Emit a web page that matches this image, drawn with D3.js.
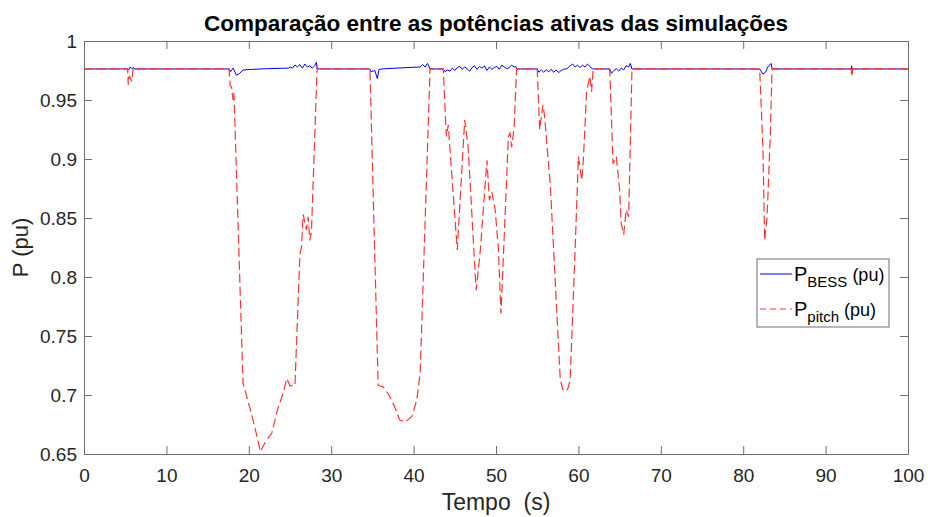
<!DOCTYPE html>
<html><head><meta charset="utf-8">
<script src="https://cdn.jsdelivr.net/npm/d3@7"></script>
<style>body{margin:0;background:#fff}svg{display:block}text{font-family:"Liberation Sans",Arial,Helvetica,sans-serif;white-space:pre}</style>
</head><body>
<script>
const title = "Comparação entre as potências ativas das simulações";
const xLabel = "Tempo  (s)";
const yLabel = "P (pu)";
const xTicks = [0,10,20,30,40,50,60,70,80,90,100];
const yTicks = [0.65,0.7,0.75,0.8,0.85,0.9,0.95,1];
const yTickLabels = ["0.65","0.7","0.75","0.8","0.85","0.9","0.95","1"];

const pitchT = [0,5.3,5.37,5.5,5.66,5.78,5.98,6.1,17.6,17.75,17.9,18.0,18.1,18.2,19.3,20.1,21.0,21.4,22.0,22.8,23.5,24.2,24.6,25.0,25.6,26.2,26.4,26.6,26.8,27.0,27.2,27.4,27.6,28.3,28.4,
  34.7,35.7,36.3,37.1,37.7,38.3,39.0,39.8,40.4,40.8,42.0,
  43.6,43.9,44.0,44.2,45.3,46.2,46.6,47.5,47.6,48.1,48.9,49.2,49.5,49.9,50.3,50.6,51.1,51.5,51.7,51.9,52.2,52.5,
  55.0,55.3,55.7,55.9,56.6,57.2,57.8,58.1,58.4,58.7,59.0,59.6,60.0,60.4,60.6,61.0,61.4,61.6,61.8,
  63.8,64.2,64.6,65.0,65.2,65.5,65.8,66.1,66.5,
  82.0,82.4,82.6,82.9,83.3,83.5,93.1,93.2,93.3,100];
const pitchP = [0.9763,0.9763,0.963,0.970,0.9686,0.9655,0.977,0.9763,0.9763,0.962,0.961,0.955,0.950,0.956,0.710,0.690,0.665,0.652,0.660,0.668,0.688,0.702,0.714,0.708,0.708,0.819,0.826,0.853,0.846,0.840,0.851,0.831,0.838,0.979,0.9763,
  0.9763,0.708,0.707,0.699,0.690,0.679,0.677,0.682,0.696,0.719,0.9763,
  0.9763,0.930,0.919,0.929,0.823,0.933,0.912,0.800,0.789,0.823,0.899,0.865,0.872,0.857,0.823,0.769,0.851,0.919,0.922,0.910,0.927,0.9763,
  0.9763,0.925,0.946,0.936,0.877,0.795,0.713,0.705,0.703,0.705,0.713,0.823,0.902,0.882,0.899,0.958,0.970,0.957,0.9763,
  0.9763,0.896,0.902,0.874,0.845,0.836,0.857,0.851,0.9763,
  0.9763,0.908,0.831,0.851,0.922,0.9763,0.9763,0.970,0.9763,0.9763];

const bessT = [0,5.3,5.4,5.6,5.8,6.0,6.1,17.6,17.8,18.1,18.5,18.9,19.3,20.0,22.0,24.6,24.8,25.0,25.3,25.6,25.9,26.2,26.5,26.8,27.1,27.4,27.7,28.0,28.2,28.3,
  34.7,34.8,35.3,35.6,35.8,36.5,40.8,41.1,41.4,41.7,42.0,
  43.6,43.8,44.1,44.4,44.7,45.0,45.3,45.6,45.9,46.2,46.5,46.8,47.1,47.4,47.7,48.0,48.3,48.6,48.9,49.2,49.5,49.8,50.1,50.4,50.7,51.0,51.3,51.6,51.9,52.2,52.4,52.5,
  55.0,55.2,55.5,55.8,56.1,56.4,56.7,57.0,57.3,57.6,57.9,58.2,58.6,59.0,59.3,59.6,59.9,60.2,60.5,60.8,61.1,61.4,61.7,
  63.8,64.0,64.3,64.6,64.9,65.2,65.5,65.8,66.1,66.3,66.5,
  82.0,82.4,82.7,83.0,83.4,83.5,93.1,93.15,93.25,93.3,100];
const bessP = [0.9763,0.9763,0.9755,0.978,0.9765,0.9775,0.9763,0.9763,0.974,0.977,0.971,0.9726,0.9754,0.9758,0.9765,0.977,0.9768,0.978,0.977,0.9797,0.978,0.980,0.977,0.9805,0.978,0.979,0.977,0.979,0.982,0.9763,
  0.9763,0.974,0.975,0.968,0.976,0.9765,0.978,0.980,0.978,0.981,0.9763,
  0.9763,0.974,0.9755,0.9745,0.977,0.975,0.9775,0.9785,0.976,0.978,0.9765,0.9745,0.9775,0.979,0.976,0.9785,0.977,0.979,0.975,0.978,0.976,0.9775,0.9785,0.976,0.9795,0.978,0.9765,0.9775,0.9795,0.978,0.9785,0.9763,
  0.9763,0.9735,0.9755,0.9735,0.9755,0.974,0.976,0.9735,0.9755,0.9732,0.975,0.976,0.9765,0.979,0.9805,0.978,0.9795,0.9775,0.9795,0.978,0.9805,0.9785,0.9763,
  0.9763,0.9726,0.975,0.9765,0.9745,0.977,0.9755,0.979,0.978,0.981,0.9763,
  0.9763,0.972,0.9735,0.978,0.981,0.9763,0.9763,0.979,0.9755,0.9763,0.9763];

const W = 928, H = 517;
const L = 84, R = 908, T = 41, B = 454;
const x = d3.scaleLinear().domain([0,100]).range([L,R]);
const y = d3.scaleLinear().domain([0.65,1]).range([B,T]);
const axisCol = "#6e6e6e", txtCol = "#262626";

const svg = d3.select("body").append("svg").attr("width",W).attr("height",H);
svg.append("defs").append("clipPath").attr("id","clip").append("rect")
  .attr("x",L).attr("y",T).attr("width",R-L).attr("height",B-T);

// lines
const line = d3.line().x(d=>x(d[0])).y(d=>y(d[1]));
const bess = bessT.map((t,i)=>[t,bessP[i]]);
const pitch = pitchT.map((t,i)=>[t,pitchP[i]]);
const g = svg.append("g").attr("clip-path","url(#clip)");
g.append("path").datum(bess).attr("d",line).attr("fill","none").attr("stroke","#0000ff").attr("stroke-width",1);
g.append("path").datum(pitch).attr("d",line).attr("fill","none").attr("stroke","#ff3333").attr("stroke-width",1.2).attr("stroke-dasharray","9,4");

// axes
function styleAxis(sel){
  sel.select(".domain").attr("stroke",axisCol);
  sel.selectAll(".tick line").attr("stroke",axisCol);
  sel.selectAll(".tick text").attr("fill",txtCol).style("font-size","19px");
}
const ax = svg.append("g").attr("transform",`translate(0,${B})`)
  .call(d3.axisBottom(x).tickValues(xTicks).tickSize(-8).tickPadding(15).tickFormat(d3.format("d")));
styleAxis(ax);
const axT = svg.append("g").attr("transform",`translate(0,${T})`)
  .call(d3.axisTop(x).tickValues(xTicks).tickSize(-8).tickFormat(""));
styleAxis(axT);
const ay = svg.append("g").attr("transform",`translate(${L},0)`)
  .call(d3.axisLeft(y).tickValues(yTicks).tickSize(-8).tickPadding(7).tickFormat((d,i)=>yTickLabels[i]));
styleAxis(ay);
ay.selectAll(".tick text").attr("dy","0.36em");
const ayR = svg.append("g").attr("transform",`translate(${R},0)`)
  .call(d3.axisRight(y).tickValues(yTicks).tickSize(-8).tickFormat(""));
styleAxis(ayR);

// title and labels
svg.append("text").attr("x",(L+R)/2).attr("y",31).attr("text-anchor","middle")
  .style("font-size","22.5px").style("font-weight","bold").attr("fill","#000").text(title);
svg.append("text").attr("x",(L+R)/2).attr("y",510).attr("text-anchor","middle")
  .style("font-size","23px").attr("fill",txtCol).text(xLabel);
svg.append("text").attr("transform",`translate(28,247.5) rotate(-90)`).attr("text-anchor","middle")
  .style("font-size","22px").attr("fill",txtCol).text(yLabel);

// legend
const lg = svg.append("g");
lg.append("rect").attr("x",757).attr("y",259).attr("width",132).attr("height",68)
  .attr("fill","#fff").attr("stroke","#6e6e6e").attr("stroke-width",1);
const rows = [{name:"BESS", col:"#0000ff", dash:null, yy:274},{name:"pitch", col:"#ff3333", dash:"6,4", yy:309}];
rows.forEach(r=>{
  lg.append("line").attr("x1",760).attr("x2",792).attr("y1",r.yy).attr("y2",r.yy)
    .attr("stroke",r.col).attr("stroke-width",1).attr("stroke-dasharray",r.dash);
  const t = lg.append("text").attr("x",794).attr("y",r.yy+7).attr("fill","#000").style("font-size","20px");
  t.append("tspan").text("P");
  t.append("tspan").attr("dy",6).style("font-size","15px").text(r.name);
  t.append("tspan").attr("dy",-6).style("font-size","18px").text(" (pu)");
});
</script>
</body></html>
